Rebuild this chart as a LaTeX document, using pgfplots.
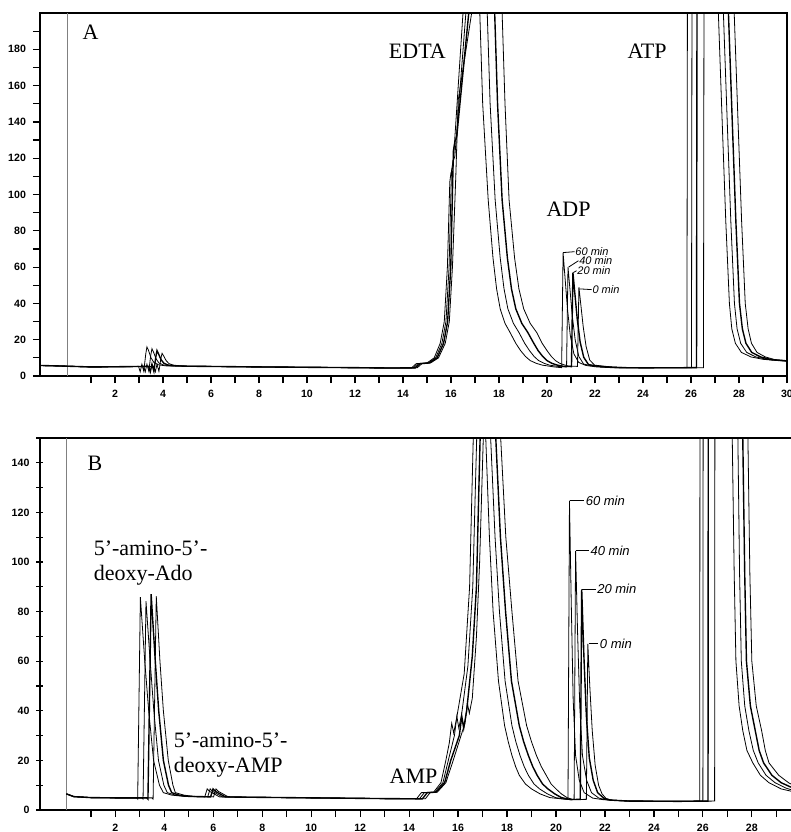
\documentclass[border=0pt]{standalone}
\usepackage{fontspec}
\setmainfont{Liberation Serif}
\newfontfamily\tickfont{Liberation Sans}
\usepackage{pgfplots}
\pgfplotsset{compat=1.18}

\tikzset{
    lbl/.style={font=\fontsize{11}{12.5}\selectfont, inner sep=0pt},
    hand/.style={font=\tickfont\itshape\fontsize{5.5}{6}\selectfont, inner sep=0pt},
    handB/.style={font=\tickfont\itshape\fontsize{6.5}{7}\selectfont, inner sep=0pt},
}
\pgfplotsset{chrom/.style={
    scale only axis, anchor=north west,
    axis line style={-, line width=0.7pt},
    tick style={black, line width=0.6pt},
    tick align=outside,
    major tick length=3.5pt, minor tick length=3.5pt,
    xtick pos=bottom, ytick pos=left,
    ticklabel style={font=\tickfont\bfseries\fontsize{5.3}{5.5}\selectfont},
    /pgf/number format/assume math mode=true,
    xtick={2,4,...,30}, minor xtick={1,3,...,29},
    cycle list={{black, no markers, line width=0.7pt}},
}}

\begin{document}
\begin{tikzpicture}
\useasboundingbox (0,0) rectangle (395.5pt,-416pt);

% ---------------- panel A ----------------
\begin{axis}[chrom,
    at={(20pt,-6.5pt)}, width=373.5pt, height=181.5pt,
    xmin=-1.125, xmax=30, ymin=0, ymax=200,
    ytick={0,20,...,180}, minor ytick={10,30,...,190},
]
\draw[gray, line width=0.4pt] (axis cs:0,0) -- (axis cs:0,200);
% 60 min
\addplot coordinates {(-1.12,5.8) (-0.5,5.6) (0,5.4) (1,5.0) (2,5.1) (2.95,5.3)
 (2.98,5.3) (3.05,2.3) (3.12,6.5) (3.2,2.6) (3.28,12) (3.33,16) (3.4,14) (3.5,10) (3.62,7.5) (3.8,6.2) (4.1,5.6)
 (5,5.4) (6.5,5.2) (8,5.0) (10,4.8) (12,4.6) (13.5,4.4) (14.35,4.4) (14.55,6.8) (15.0,7.2)
 (15.3,10) (15.55,18) (15.72,30) (15.85,60) (15.95,107) (16.0,112) (16.08,115) (16.5,200) (17.2,200)
 (17.32,150) (17.55,97) (17.75,65) (17.9,48) (18.05,37) (18.25,29) (18.46,24) (18.7,18) (18.9,14) (19.1,10.8)
 (19.3,8.5) (19.55,7) (19.8,6) (20.3,5) (20.61,4.6)
 (20.67,68) (20.75,54.4) (20.85,37.4) (20.97,22.4) (21.12,12.2) (21.32,7.5) (21.62,5.8) (22.07,5) (22.67,4.6)
 (24,4.5) (25.83,4.6) (25.85,200) (27.14,200) (27.3,140) (27.45,85) (27.6,40) (27.7,26) (27.85,18) (28.1,13)
 (28.5,10.5) (29.0,9.2) (29.6,8.5) (30,8.2)};
% 40 min
\addplot coordinates {(-1.12,5.8) (-0.5,5.6) (0,5.4) (1,5.0) (2,5.1) (3.16,5.3)
 (3.19,5.3) (3.26,2.3) (3.33,6.5) (3.41,2.6) (3.49,11.5) (3.54,15) (3.61,13) (3.71,9.5) (3.83,7.2) (4.01,6.1) (4.31,5.6)
 (5,5.4) (6.5,5.2) (8,5.0) (10,4.8) (12,4.6) (13.5,4.4) (14.43,4.5) (14.63,6.8) (15.05,7.2)
 (15.36,10) (15.62,18) (15.79,30) (15.92,60) (16.02,113) (16.08,118) (16.16,121) (16.62,200) (17.51,200)
 (17.63,150) (17.84,97) (18.05,65) (18.21,48) (18.37,37) (18.6,29) (18.83,24) (19.07,18) (19.27,14) (19.46,10.8)
 (19.65,8.5) (19.88,7) (20.1,6) (20.5,5.2) (20.815,5.0)
 (20.875,60) (20.955,48) (21.055,33) (21.175,19.8) (21.325,10.8) (21.525,6.6) (21.825,5.7) (22.275,5) (22.875,4.6)
 (24,4.5) (26.02,4.6) (26.04,200) (27.35,200) (27.51,140) (27.66,85) (27.81,40) (27.92,26) (28.07,18) (28.32,13)
 (28.7,10.5) (29.2,9.1) (29.7,8.5) (30,8.3)};
% 20 min
\addplot coordinates {(-1.12,5.8) (-0.5,5.6) (0,5.4) (1,5.0) (2,5.1) (3.37,5.3)
 (3.4,5.3) (3.47,2.3) (3.54,6.5) (3.62,2.6) (3.7,10.5) (3.75,14) (3.82,12) (3.92,9) (4.04,7) (4.22,6) (4.52,5.6)
 (5,5.4) (6.5,5.2) (8,5.0) (10,4.8) (12,4.6) (13.5,4.4) (14.51,4.5) (14.71,6.8) (15.1,7.2)
 (15.42,10) (15.69,18) (15.86,30) (15.99,60) (16.1,124) (16.16,129) (16.24,132) (16.74,200) (17.82,200)
 (17.94,150) (18.13,97) (18.35,65) (18.52,48) (18.7,37) (18.95,29) (19.2,24) (19.45,18) (19.63,14) (19.82,10.8)
 (20.0,8.5) (20.2,7) (20.4,6.1) (20.7,5.3) (21.02,5.2)
 (21.08,57) (21.16,45.6) (21.26,31.4) (21.38,18.8) (21.53,10.3) (21.73,6.3) (22.03,5.6) (22.48,5) (23.08,4.6)
 (24,4.5) (26.23,4.6) (26.25,200) (27.56,200) (27.72,140) (27.87,85) (28.02,40) (28.14,26) (28.29,18) (28.53,13)
 (28.9,10.5) (29.35,9.05) (29.8,8.6) (30,8.3)};
% 0 min
\addplot coordinates {(-1.12,5.8) (-0.5,5.6) (0,5.4) (1,5.0) (2,5.1) (3.58,5.3)
 (3.61,5.3) (3.68,2.3) (3.75,6.5) (3.83,2.6) (3.91,9.5) (3.96,12.5) (4.03,11) (4.13,8.5) (4.25,6.8) (4.43,6) (4.73,5.6)
 (5,5.4) (6.5,5.2) (8,5.0) (10,4.8) (12,4.6) (13.5,4.4) (14.59,4.5) (14.79,6.8) (15.15,7.2)
 (15.48,10) (15.76,18) (15.93,30) (16.06,60) (16.2,110) (16.3,152) (16.36,157) (16.86,200) (18.13,200)
 (18.25,150) (18.42,97) (18.65,65) (18.83,48) (19.03,37) (19.3,29) (19.57,24) (19.8,18) (20.0,14) (20.18,10.8)
 (20.35,8.5) (20.53,7) (20.7,6.2) (20.9,5.5) (21.27,5.3)
 (21.33,49) (21.41,39.2) (21.51,27) (21.63,16.2) (21.78,8.8) (21.98,6) (22.28,5.5) (22.73,5) (23.33,4.6)
 (24,4.5) (26.52,4.6) (26.54,200) (27.8,200) (27.96,140) (28.11,85) (28.26,40) (28.38,26) (28.52,18) (28.75,13)
 (29.1,10.5) (29.5,9) (30,8.3)};
\node[lbl, anchor=west] at (axis cs:0.63,189.5) {A};
\node[lbl] at (axis cs:14.6,179) {EDTA};
\node[lbl] at (axis cs:24.17,179) {ATP};
\node[lbl] at (axis cs:20.9,92) {ADP};
\draw[line width=0.4pt] (axis cs:20.67,68) -- (axis cs:21.15,68.5);
\draw[line width=0.4pt] (axis cs:20.9,60) -- (axis cs:21.31,63.5);
\draw[line width=0.4pt] (axis cs:21.1,57) -- (axis cs:21.23,58);
\draw[line width=0.4pt] (axis cs:21.36,48) -- (axis cs:21.86,47.6);
\node[hand, anchor=west] at (axis cs:21.17,68.5) {60 min};
\node[hand, anchor=west] at (axis cs:21.33,63.5) {40 min};
\node[hand, anchor=west] at (axis cs:21.25,58) {20 min};
\node[hand, anchor=west] at (axis cs:21.88,47.6) {0 min};
\end{axis}

% ---------------- panel B ----------------
\begin{axis}[chrom,
    at={(20pt,-219pt)}, width=375.5pt, height=186pt,
    axis y line=left, axis x line=box,
    y axis line style={-}, x axis line style={-},
    xmin=-1.08, xmax=29.6, ymin=0, ymax=150,
    ytick={0,20,...,140}, minor ytick={10,30,...,150},
]
\draw[gray, line width=0.4pt] (axis cs:0,0) -- (axis cs:0,150);
% 60 min
\addplot coordinates {(0,6.5) (0.3,5.4) (1,5) (2,4.9) (2.86,4.9) (2.91,4.4) (3.02,85.8) (3.2,60) (3.36,40)
 (3.56,20) (3.8,10) (3.96,7) (4.3,6) (4.8,5.5) (5.65,5.3) (5.75,8.5) (5.85,7.5) (6.25,5.3) (7,5.2) (9,5.0)
 (11,4.8) (13,4.6) (14.3,4.5) (14.5,7) (15.0,7.2) (15.3,11) (15.5,20) (15.64,27) (15.74,35) (15.82,31)
 (15.94,37) (16.25,55) (16.47,90) (16.62,150) (17.13,150) (17.28,110) (17.43,80) (17.65,52) (17.9,34)
 (18.05,27.5) (18.2,22) (18.35,17.5) (18.5,14) (18.75,10.5) (19.0,8.5) (19.35,6.5) (19.75,5) (20.4,4.3)
 (20.49,4.3) (20.55,124.7) (20.62,85) (20.7,45)
 (20.8,22) (20.95,12) (21.15,7) (21.5,4.8) (21.9,4.2) (23,3.6) (25,3.5) (25.87,3.6) (25.88,150) (27.2,150)
 (27.28,95) (27.35,60) (27.48,42) (27.63,32) (27.8,24) (28.04,19) (28.35,14) (28.7,11) (29.2,8.5) (29.6,7.6)};
% 40 min
\addplot coordinates {(0,6.5) (0.3,5.4) (1,5) (2,4.9) (3.08,4.9) (3.13,4.4) (3.25,84.2) (3.42,60) (3.57,40)
 (3.76,20) (3.98,10) (4.12,7) (4.45,6) (4.9,5.5) (5.77,5.3) (5.87,8.5) (5.97,7.5) (6.37,5.3) (7,5.2) (9,5.0)
 (11,4.8) (13,4.6) (14.42,4.5) (14.62,7) (15.05,7.2) (15.38,11) (15.6,20) (15.85,30) (15.95,37.8) (16.03,33)
 (16.15,39) (16.4,58) (16.6,90) (16.76,150) (17.33,150) (17.51,110) (17.69,80) (17.92,52) (18.2,34)
 (18.36,27.5) (18.53,22) (18.7,17.5) (18.87,14) (19.1,10.5) (19.33,8.5) (19.65,6.5) (19.98,5) (20.5,4.2)
 (20.74,4.3) (20.8,104.5) (20.88,72) (20.97,42)
 (21.08,22) (21.25,12) (21.45,7) (21.75,4.8) (22.05,4.1) (23,3.6) (25,3.5) (26.0,3.6) (26.01,150) (27.43,150)
 (27.5,95) (27.57,60) (27.71,42) (27.88,32) (28.06,24) (28.26,19) (28.58,14) (28.95,11) (29.4,8.8) (29.6,8.2)};
% 20 min
\addplot coordinates {(0,6.5) (0.3,5.4) (1,5) (2,4.9) (3.28,4.9) (3.33,4.4) (3.46,87) (3.63,60) (3.77,40)
 (3.96,20) (4.17,10) (4.3,7) (4.6,6) (5.0,5.5) (5.89,5.3) (5.99,8.5) (6.09,7.5) (6.49,5.3) (7,5.2) (9,5.0)
 (11,4.8) (13,4.6) (14.54,4.5) (14.74,7) (15.1,7.2) (15.45,11) (15.7,20) (16.05,30) (16.15,37.8) (16.23,33)
 (16.35,40) (16.58,62) (16.75,90) (16.9,150) (17.54,150) (17.73,110) (17.94,80) (18.18,52) (18.5,34)
 (18.68,27.5) (18.87,22) (19.05,17.5) (19.23,14) (19.45,10.5) (19.67,8.5) (19.95,6.5) (20.22,5) (20.6,4.2)
 (20.99,4.3) (21.05,89) (21.14,62) (21.24,38)
 (21.36,21) (21.52,12) (21.7,7) (21.95,4.8) (22.2,4) (23,3.6) (25,3.5) (26.21,3.6) (26.22,150) (27.63,150)
 (27.71,95) (27.78,60) (27.94,42) (28.14,32) (28.3,24) (28.48,19) (28.82,14) (29.2,11) (29.6,9.2)};
% 0 min
\addplot coordinates {(0,6.5) (0.3,5.4) (1,5) (2,4.9) (3.49,4.9) (3.54,4.4) (3.67,86.2) (3.82,60) (3.96,40)
 (4.16,20) (4.35,10) (4.45,7) (4.8,6) (5.2,5.5) (6.01,5.3) (6.11,8.5) (6.21,7.5) (6.61,5.3) (7,5.2) (9,5.0)
 (11,4.8) (13,4.6) (14.66,4.5) (14.86,7) (15.15,7.2) (15.5,11) (15.8,20) (16.28,35) (16.38,43) (16.46,39)
 (16.58,45) (16.75,70) (16.88,100) (17.03,150) (17.74,150) (17.95,110) (18.2,80) (18.45,52) (18.8,34)
 (19.0,27.5) (19.2,22) (19.4,17.5) (19.6,14) (19.8,10.5) (20.0,8.5) (20.22,6.5) (20.45,5) (20.7,4.2)
 (21.24,4.3) (21.3,67) (21.38,50) (21.48,32) (21.6,18)
 (21.74,10) (21.88,6.5) (22.05,4.6) (22.3,3.9) (23,3.6) (25,3.5) (26.48,3.6) (26.49,150) (27.84,150)
 (27.92,95) (28.0,60) (28.18,42) (28.4,32) (28.55,24) (28.7,19) (29.1,14) (29.5,11) (29.6,10.5)};
\node[lbl, anchor=west] at (axis cs:0.85,139.6) {B};
\node[lbl, anchor=north west, align=left] at (axis cs:1.1,108.5) {5’-amino-5’-\\deoxy-Ado};
\node[lbl, anchor=north west, align=left] at (axis cs:4.37,31.2) {5’-amino-5’-\\deoxy-AMP};
\node[lbl] at (axis cs:14.18,13.5) {AMP};
\draw[line width=0.4pt] (axis cs:20.58,124.7) -- (axis cs:21.15,124.7);
\draw[line width=0.4pt] (axis cs:20.83,104.5) -- (axis cs:21.35,104.5);
\draw[line width=0.4pt] (axis cs:21.08,89) -- (axis cs:21.62,89);
\draw[line width=0.4pt] (axis cs:21.33,67) -- (axis cs:21.73,67);
\node[handB, anchor=west] at (axis cs:21.2,124.7) {60 min};
\node[handB, anchor=west] at (axis cs:21.4,104.5) {40 min};
\node[handB, anchor=west] at (axis cs:21.67,89) {20 min};
\node[handB, anchor=west] at (axis cs:21.78,67) {0 min};
\end{axis}
\end{tikzpicture}
\end{document}
